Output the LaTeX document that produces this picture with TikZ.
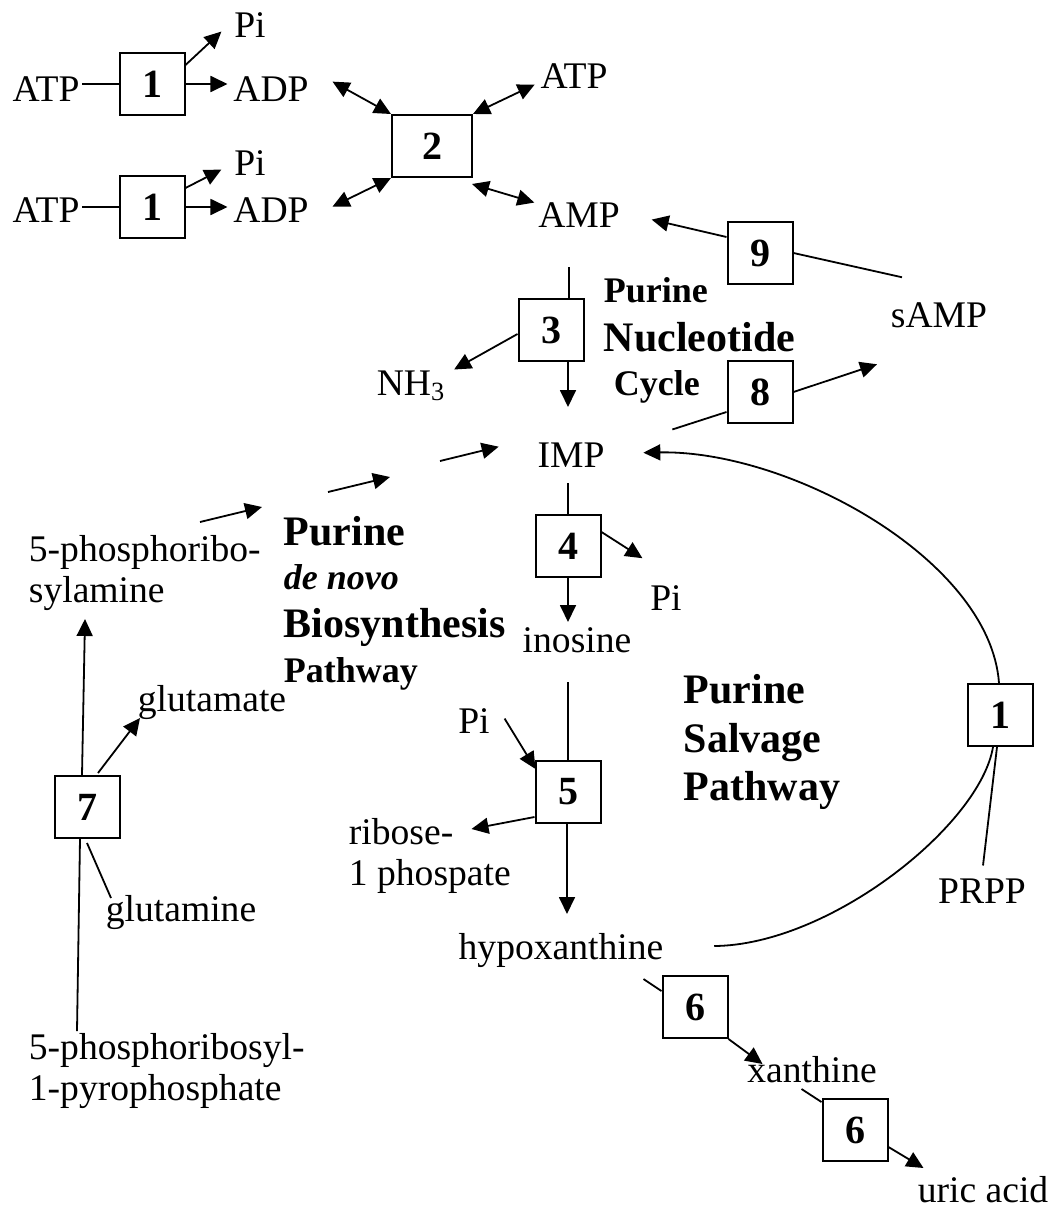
\documentclass[tikz,border=0pt]{standalone}
\usepackage{fontspec}
\setmainfont{Liberation Serif}
\usetikzlibrary{arrows.meta,calc}

\tikzset{
  enz/.style={draw, line width=1pt, minimum width=32.5pt, minimum height=31pt,
    inner sep=0pt, font=\fontsize{20}{20}\selectfont\bfseries},
  met/.style={inner sep=1pt, anchor=base, font=\fontsize{18.8}{20.5}\selectfont},
  lab/.style={inner sep=0pt, anchor=base west, font=\fontsize{21}{23}\selectfont\bfseries},
  labs/.style={inner sep=0pt, anchor=base west, font=\fontsize{18}{20}\selectfont\bfseries},
  rx/.style={-{Triangle[length=8.5pt,width=8pt]}},
  rxx/.style={{Triangle[length=8.5pt,width=8pt]}-{Triangle[length=8.5pt,width=8pt]}},
}

\begin{document}
\begin{tikzpicture}[x=0.5pt,y=-0.5pt,line width=0.9pt]
\useasboundingbox (0,0) rectangle (1057,1210);

% ATP -> ADP + Pi, twice
\node[met] (atpA) at (46,101) {ATP};
\node[enz] (e1A) at (152,84) {1};
\node[met] (adpA) at (271,101) {ADP};
\node[met] (piA) at (250,37) {Pi};
\node[met] (atpB) at (46,222) {ATP};
\node[enz] (e1B) at (152,207) {1};
\node[met] (adpB) at (271,222) {ADP};
\node[met] (piB) at (250,175) {Pi};
\foreach \s in {A,B}{
  \draw (atp\s.east |- e1\s.west) -- (e1\s.west);
  \draw[rx] (e1\s.east) -- ($(adp\s.west |- e1\s.east)+(-3,0)$);
  \draw[rx] ($(e1\s.north east)+(0,13)$) -- ($(pi\s.west)+(-10,7)$);
}

% adenylate kinase
\node[enz, minimum width=40pt] (e2) at (432,146) {2};
\node[met] (atpC) at (574,88) {ATP};
\node[met] (amp) at (579,227) {AMP};
\draw[rxx] (e2.north west) -- ($(adpA.east)+(21,-7)$);
\draw[rxx] (e2.north east) -- ($(atpC.west)+(-3,9)$);
\draw[rxx] (e2.south west) -- ($(adpB.east)+(21,-3)$);
\draw[rxx] ($(e2.south east)+(-1,6)$) -- ($(amp.west)+(-1,-12)$);

% purine nucleotide cycle
\node[enz] (e3) at (551,330) {3};
\node[met] (nh3) at (411,395) {NH\textsubscript{3}};
\node[met] (imp) at (571,467) {IMP};
\node[enz] (e9) at (760,253) {9};
\node[enz] (e8) at (760,392) {8};
\node[met] (samp) at (939,327) {sAMP};
\draw ($(e3.north)+(18,-31)$) -- ($(e3.north)+(18,0)$);
\draw[rx] ($(e3.south)+(17,0)$) -- ($(e3.south)+(17,45)$);
\draw[rx] ($(e3.west)+(0,4)$) -- ($(nh3.north east)+(6,2)$);
\draw[rx] ($(e9.west)+(0,-16)$) -- ($(amp.east)+(29,5)$);
\draw (e9.east) -- ($(samp.north west)+(14,-22)$);
\draw ($(imp.north east)+(65,-10)$) -- ($(e8.west)+(0,20)$);
\draw[rx] (e8.east) -- ($(samp.south west)+(-11,34)$);
\node[labs] (ncA) at (603,302) {Purine};
\node[lab] (ncB) at (603,351) {Nucleotide};
\node[labs] (ncC) at (613,395) {Cycle};

% de novo
\coordinate (dn1) at (440,461);
\coordinate (dn2) at (328,492);
\coordinate (dn3) at (200,522);
\draw[rx] (dn1) -- ($(imp.west)+(-36,-8)$);
\draw[rx] (dn2) -- ($(dn2)+(62,-15)$);
\draw[rx] (dn3) -- ($(dn3)+(62,-15)$);
\node[lab] (dnA) at (283,545) {Purine};
\node[labs] (dnB) at (283,589) {\itshape de novo};
\node[lab] (dnC) at (283,637) {Biosynthesis};
\node[labs] (dnD) at (283,682) {Pathway};

% IMP -> inosine -> hypoxanthine
\node[enz] (e4) at (568,546) {4};
\node[met] (pi4) at (666,610) {Pi};
\node[met] (ino) at (577,652) {inosine};
\draw ($(e4.north)+(0,-31)$) -- (e4.north);
\draw[rx] (e4.south) -- ($(e4.south)+(0,44)$);
\draw[rx] ($(e4.east)+(0,-14)$) -- ($(pi4.north west)+(-5,-24)$);
\node[enz] (e5) at (568,792) {5};
\node[met] (pi5) at (474,733) {Pi};
\node[met, anchor=base west, align=left] (rib) at (346,885) {ribose-\\1 phospate};
\node[met] (hypo) at (561,959) {hypoxanthine};
\draw ($(e5.north)+(0,-78)$) -- (e5.north);
\draw[rx] ($(pi5.east)+(12,-2)$) -- ($(e5.north west)+(1,9)$);
\draw[rx] ($(e5.west)+(0,25)$) -- ($(e5.west)+(-63,37)$);
\draw[rx] ($(e5.south)+(-1,0)$) -- ($(e5.south)+(-1,90)$);

% salvage
\node[enz] (e1c) at (1000,715) {1};
\node[met] (prpp) at (982,903) {PRPP};
\draw ($(hypo.east)+(48,-4)$) .. controls (830,945) and (980,825) .. ($(e1c.south)+(-7,0)$);
\draw ($(e1c.south)+(-3,0)$) -- ($(prpp.north)+(1,-10)$);
\draw[rx] ($(e1c.north)+(-1,0)$) .. controls (990,560) and (790,450) .. ($(imp.east)+(36,-2)$);
\node[lab] (svA) at (683,703) {Purine};
\node[lab] (svB) at (683,752) {Salvage};
\node[lab] (svC) at (683,800) {Pathway};

% xanthine oxidase
\node[enz] (e6a) at (695,1007) {6};
\node[met] (xan) at (812,1082) {xanthine};
\node[enz] (e6b) at (855,1130) {6};
\node[met] (uric) at (983,1202) {uric acid};
\draw ($(e6a.north west)+(-18,4)$) -- ($(e6a.north west)+(0,16)$);
\draw[rx] (e6a.south east) -- ($(e6a.south east)+(34,25)$);
\draw ($(e6b.north west)+(-20,-9)$) -- ($(e6b.north west)+(0,4)$);
\draw[rx] ($(e6b.east)+(0,17)$) -- ($(e6b.east)+(35,38)$);

% glutamine amidotransferase
\node[enz] (e7) at (87,807) {7};
\node[met, anchor=base west, align=left] (pra) at (26,602) {5-phosphoribo-\\sylamine};
\node[met] (glu) at (212,711) {glutamate};
\node[met] (gln) at (181,921) {glutamine};
\node[met, anchor=base west, align=left] (prpp7) at (26,1100) {5-phosphoribosyl-\\1-pyrophosphate};
\draw[rx] ($(e7.north)+(-5,0)$) -- ($(e7.north)+(-2,-156)$);
\draw[rx] ($(e7.north)+(11,-2)$) -- ($(e7.north)+(53,-57)$);
\draw ($(e7.south)+(-7,0)$) -- ($(e7.south)+(-10,192)$);
\draw ($(e7.south)+(0,4)$) -- ($(e7.south)+(24,59)$);
\end{tikzpicture}
\end{document}
